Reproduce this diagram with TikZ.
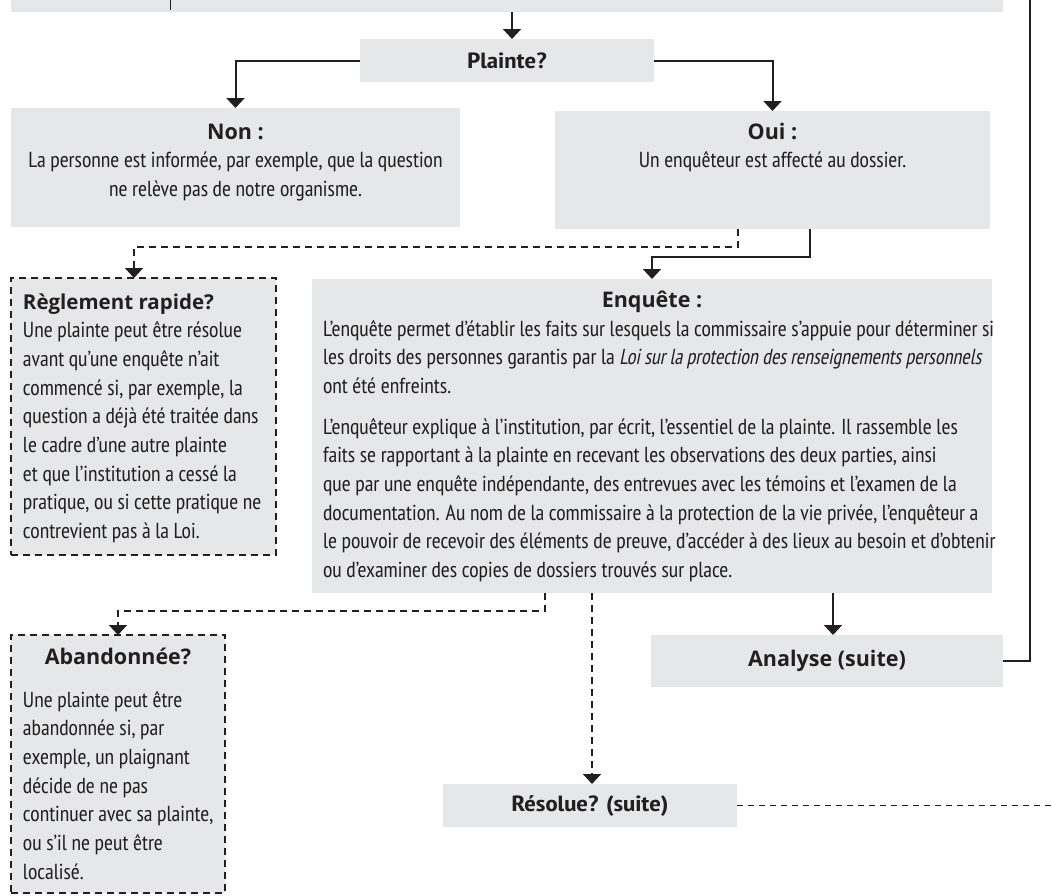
\documentclass[tikz,border=0pt]{standalone}
\usepackage{fontspec}
\usetikzlibrary{arrows.meta}
\IfFontExistsTF{PT Sans Narrow}{%
  \setmainfont{PT Sans Narrow}[ItalicFont={PT Sans Narrow},ItalicFeatures={FakeSlant=0.2,FakeStretch=0.93}]%
  \newfontfamily\semicond{PT Sans Narrow}[FakeStretch=1.24]%
}{%
  \setmainfont{texgyreheroscn}[Extension=.otf,UprightFont=*-regular,BoldFont=*-bold,ItalicFont=*-italic]%
  \newfontfamily\semicond{texgyreheroscn}[Extension=.otf,UprightFont=*-regular,BoldFont=*-bold,FakeStretch=1.1]%
}
\newfontfamily\widefont{Open Sans}
\definecolor{boxgray}{HTML}{E6E7E8}
\definecolor{ink}{HTML}{231F20}
\newcommand\bodyfnt{\fontsize{21.7}{28.7}\selectfont}
\newcommand\wbold{\widefont\bfseries\fontsize{21.5}{26}\selectfont}
\newcommand\nbold{\semicond\bfseries\fontsize{22}{26}\selectfont}
\begin{document}
\begin{tikzpicture}[x=1pt,y=-1pt,
  box/.style={fill=boxgray, inner sep=0pt, outer sep=0pt, anchor=north west, text=ink},
  dbox/.style={box, draw=ink, line width=1.8pt, dash pattern=on 7pt off 5pt},
  txt/.style={inner sep=0pt, outer sep=0pt, text=ink, font=\bodyfnt},
  conn/.style={draw=ink, line width=2pt},
  dconn/.style={conn, dash pattern=on 7pt off 5pt},
  arr/.style={-{Triangle[width=18pt,length=10pt]}}]
\useasboundingbox (0,0) rectangle (1052,895);

% boxes
\node[box, minimum width=992pt, minimum height=52pt] (top) at (11,-40) {};
\draw[ink, line width=1pt] (170,0) -- (170,10);
\node[box, minimum width=294pt, minimum height=43pt, font=\nbold] (plainte) at (360,39) {Plainte?};
\node[box, minimum width=449pt, minimum height=119pt] (non) at (11,108) {};
\node[txt, anchor=base] (nontxt) at (235.5,139) {\parbox[t]{445pt}{\centering{\wbold Non :}\\ La personne est informée, par exemple, que la question\\ ne relève pas de notre organisme.}};
\node[box, minimum width=435pt, minimum height=118pt] (oui) at (555,111) {};
\node[txt, anchor=base] (ouitxt) at (772.5,139) {\parbox[t]{430pt}{\centering{\wbold Oui :}\\ Un enquêteur est affecté au dossier.}};

\node[dbox, minimum width=265pt, minimum height=277pt] (regl) at (11,278) {};
\node[txt, anchor=base west] (regltxt) at (23,309) {\parbox[t]{262pt}{\raggedright{\wbold\fontsize{20.5}{26}\selectfont Règlement rapide?}\\ Une plainte peut être résolue\\ avant qu’une enquête n’ait\\ commencé si, par exemple, la\\ question a déjà été traitée dans\\ le cadre d’une autre plainte\\ et que l’institution a cessé la\\ pratique, ou si cette pratique ne\\ contrevient pas à la Loi.}};

\node[box, minimum width=680pt, minimum height=314pt] (enq) at (312,279) {};
\node[txt, anchor=base, font=\wbold] (enqtitle) at (652,307) {Enquête :};
\node[txt, anchor=base west] (enqtxt) at (323,336) {\parbox[t]{720pt}{\raggedright L’enquête permet d’établir les faits sur lesquels la commissaire s’appuie pour déterminer si\\ les droits des personnes garantis par la \textit{Loi sur la protection des renseignements personnels}\\ ont été enfreints.\\[12pt] L’enquêteur explique à l’institution, par écrit, l’essentiel de la plainte. Il rassemble les\\ faits se rapportant à la plainte en recevant les observations des deux parties, ainsi\\ que par une enquête indépendante, des entrevues avec les témoins et l’examen de la\\ documentation. Au nom de la commissaire à la protection de la vie privée, l’enquêteur a\\ le pouvoir de recevoir des éléments de preuve, d’accéder à des lieux au besoin et d’obtenir\\ ou d’examiner des copies de dossiers trouvés sur place.}};

\node[dbox, minimum width=214pt, minimum height=258pt] (aband) at (11,635) {};
\node[txt, anchor=base, font=\wbold] (abtitle) at (118,664) {Abandonnée?};
\node[txt, anchor=base west] (abtxt) at (23,707) {\parbox[t]{215pt}{\raggedright Une plainte peut être\\ abandonnée si, par\\ exemple, un plaignant\\ décide de ne pas\\ continuer avec sa plainte,\\ ou s’il ne peut être\\ localisé.}};

\node[box, minimum width=352pt, minimum height=52pt, font=\wbold] (analyse) at (651,635) {Analyse (suite)};
\node[box, minimum width=294pt, minimum height=43pt, font=\nbold] (resolue) at (443,784) {Résolue? (suite)};

% helper coordinates
\coordinate (a1) at ([xshift=5pt]plainte.north);
\coordinate (o1) at ([xshift=-34.5pt]oui.south);
\coordinate (o2) at ([xshift=37.5pt]oui.south);
\coordinate (r1) at ([xshift=-9.5pt]regl.north);
\coordinate (e2) at ([xshift=-107pt]enq.south);
\coordinate (e3) at ([xshift=-60pt]enq.south);
\coordinate (e4) at ([xshift=181pt]enq.south);
\coordinate (c1) at (1030,-3);
\coordinate (c2) at (1053,805.5);

% connectors
\draw[conn, arr] (top.south -| a1) -- (a1);
\draw[conn, arr] (plainte.west) -| (non.north);
\draw[conn, arr] (plainte.east) -| (oui.north);
\draw[dconn, arr] (o1) -- ++(0,18) -| (r1);
\draw[conn, arr] (o2) -- ++(0,28) -| (enq.north);
\draw[dconn, arr] (e2) -- ++(0,18) -| (aband.north);
\draw[dconn, arr] (e3) -- (e3 |- resolue.north);
\draw[conn, arr] (e4) -- (e4 |- analyse.north);
\draw[conn] (analyse.east) -| (c1);
\draw[conn, line width=1.6pt, dash pattern=on 6pt off 5pt] (resolue.east) -- (c2);
\end{tikzpicture}
\end{document}
